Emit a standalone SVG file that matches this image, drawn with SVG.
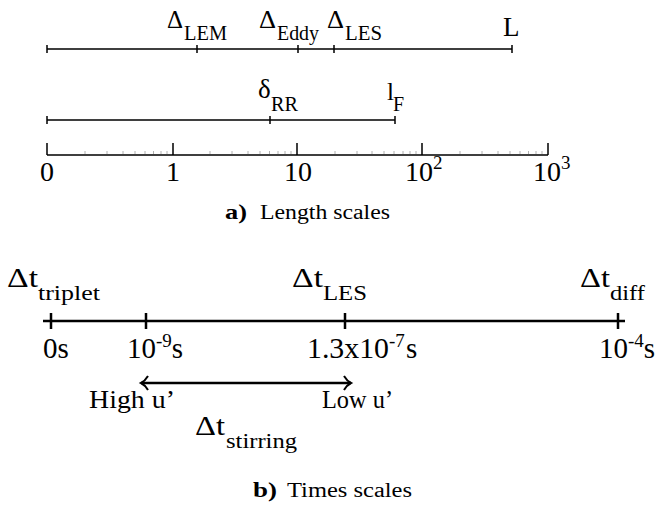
<svg xmlns="http://www.w3.org/2000/svg" width="664" height="506" viewBox="0 0 664 506">
<style>
.ln{stroke:#000;stroke-width:1.5;fill:none}
.tl{stroke:#000;stroke-width:2.5;fill:none}
.mn{stroke:#b0b0b0;stroke-width:1;fill:none}
</style>
<defs>
<marker id="hd" markerWidth="12" markerHeight="16" refX="9" refY="8" orient="auto-start-reverse" markerUnits="userSpaceOnUse">
<path d="M2,1 Q5,6 9,8 Q5,10 2,15" stroke="#000" stroke-width="2" fill="none"/>
</marker>
</defs>
<rect width="664" height="506" fill="#fff"/>

<g id="connectors">
<path class="ln" d="M47,49H512M47,45V53M197,45V53M298,45V53M334,45V53M512,45V53"/>
<path class="ln" d="M47,120H395M47,116V124M270,116V124M395,116V124"/>
<path class="ln" d="M47,155H548M47,143V155M173,143V155M297,143V155M422,143V155M548,143V155"/>
<path class="mn" d="M85,151V154M107,151V154M123,151V154M135,151V154M145,151V154M153.5,151V154M161,151V154M167,151V154M210,151V154M232,151V154M248,151V154M260,151V154M269.5,151V154M278,151V154M285,151V154M291,151V154M335,151V154M357,151V154M372,151V154M384,151V154M394,151V154M403,151V154M410,151V154M416,151V154M460,151V154M482,151V154M498,151V154M510,151V154M520,151V154M528.5,151V154M536,151V154M542,151V154"/>
<path class="tl" d="M43,321H625M51,313V329M146,313V329M345,313V329M618,313V329"/>
<path class="tl" d="M141,383H351" marker-start="url(#hd)" marker-end="url(#hd)"/>
</g>

<g id="label-LEM"><text font-family="'Liberation Serif', serif" x="167" y="28" font-size="25" textLength="16" lengthAdjust="spacingAndGlyphs">Δ</text><text font-family="'Liberation Serif', serif" x="184" y="40" font-size="20" textLength="43" lengthAdjust="spacingAndGlyphs">LEM</text></g>
<g id="label-Eddy"><text font-family="'Liberation Serif', serif" x="259" y="28" font-size="25" textLength="17" lengthAdjust="spacingAndGlyphs">Δ</text><text font-family="'Liberation Serif', serif" x="277" y="40" font-size="20" textLength="42" lengthAdjust="spacingAndGlyphs">Eddy</text></g>
<g id="label-LES"><text font-family="'Liberation Serif', serif" x="327" y="28" font-size="25" textLength="17" lengthAdjust="spacingAndGlyphs">Δ</text><text font-family="'Liberation Serif', serif" x="345" y="40" font-size="20" textLength="37" lengthAdjust="spacingAndGlyphs">LES</text></g>
<g id="label-L"><text font-family="'Liberation Serif', serif" x="503" y="36" font-size="27">L</text></g>
<g id="label-RR"><text font-family="'Liberation Serif', serif" x="258" y="98" font-size="27">δ</text><text font-family="'Liberation Serif', serif" x="271" y="111" font-size="20" textLength="27" lengthAdjust="spacingAndGlyphs">RR</text></g>
<g id="label-lF"><text font-family="'Liberation Serif', serif" x="387" y="100" font-size="25">l</text><text font-family="'Liberation Serif', serif" x="393" y="111" font-size="20">F</text></g>

<g id="axis-labels">
<text font-family="'Liberation Serif', serif" font-size="28" x="47" y="181" text-anchor="middle">0</text>
<text font-family="'Liberation Serif', serif" font-size="28" x="173" y="181" text-anchor="middle">1</text>
<text font-family="'Liberation Serif', serif" font-size="28" x="298" y="181" text-anchor="middle">10</text>
<text font-family="'Liberation Serif', serif" font-size="28" x="405" y="181">10<tspan dy="-12" font-size="19">2</tspan></text>
<text font-family="'Liberation Serif', serif" font-size="28" x="533" y="181">10<tspan dy="-12" font-size="19">3</tspan></text>
</g>
<g id="caption-a"><text font-family="'Liberation Serif', serif" x="225" y="219" font-size="21" font-weight="bold" textLength="22" lengthAdjust="spacingAndGlyphs">a)</text><text font-family="'Liberation Serif', serif" x="260" y="219" font-size="20" textLength="130" lengthAdjust="spacingAndGlyphs">Length scales</text></g>

<g id="label-triplet"><text font-family="'Liberation Serif', serif" x="7" y="287" font-size="28" textLength="31" lengthAdjust="spacingAndGlyphs">Δt</text><text font-family="'Liberation Serif', serif" x="38" y="300" font-size="22" textLength="62" lengthAdjust="spacingAndGlyphs">triplet</text></g>
<g id="label-tLES"><text font-family="'Liberation Serif', serif" x="292" y="287" font-size="28" textLength="31" lengthAdjust="spacingAndGlyphs">Δt</text><text font-family="'Liberation Serif', serif" x="323" y="300" font-size="22" textLength="44" lengthAdjust="spacingAndGlyphs">LES</text></g>
<g id="label-diff"><text font-family="'Liberation Serif', serif" x="580" y="287" font-size="28" textLength="30" lengthAdjust="spacingAndGlyphs">Δt</text><text font-family="'Liberation Serif', serif" x="610" y="300" font-size="22" textLength="35" lengthAdjust="spacingAndGlyphs">diff</text></g>

<g id="time-labels">
<text font-family="'Liberation Serif', serif" font-size="29" x="43" y="358">0s</text>
<text font-family="'Liberation Serif', serif" font-size="29" x="127" y="358">10<tspan dy="-11" font-size="19">-9</tspan><tspan dy="11">s</tspan></text>
<text font-family="'Liberation Serif', serif" font-size="29" x="307" y="358" textLength="82" lengthAdjust="spacingAndGlyphs">1.3x10</text>
<text font-family="'Liberation Serif', serif" font-size="19" x="389" y="347">-7</text>
<text font-family="'Liberation Serif', serif" font-size="29" x="406" y="358">s</text>
<text font-family="'Liberation Serif', serif" font-size="29" x="599" y="358">10<tspan dy="-11" font-size="19">-4</tspan><tspan dy="11">s</tspan></text>
</g>

<g id="label-high"><text font-family="'Liberation Serif', serif" x="89" y="408" font-size="26" textLength="86" lengthAdjust="spacingAndGlyphs">High u’</text></g>
<g id="label-low"><text font-family="'Liberation Serif', serif" x="322" y="408" font-size="25" textLength="71" lengthAdjust="spacingAndGlyphs">Low u’</text></g>
<g id="label-stirring"><text font-family="'Liberation Serif', serif" x="195" y="435" font-size="28" textLength="30" lengthAdjust="spacingAndGlyphs">Δt</text><text font-family="'Liberation Serif', serif" x="226" y="448" font-size="22" textLength="71" lengthAdjust="spacingAndGlyphs">stirring</text></g>
<g id="caption-b"><text font-family="'Liberation Serif', serif" x="253" y="497" font-size="21" font-weight="bold" textLength="24" lengthAdjust="spacingAndGlyphs">b)</text><text font-family="'Liberation Serif', serif" x="287" y="497" font-size="20" textLength="125" lengthAdjust="spacingAndGlyphs">Times scales</text></g>
</svg>
